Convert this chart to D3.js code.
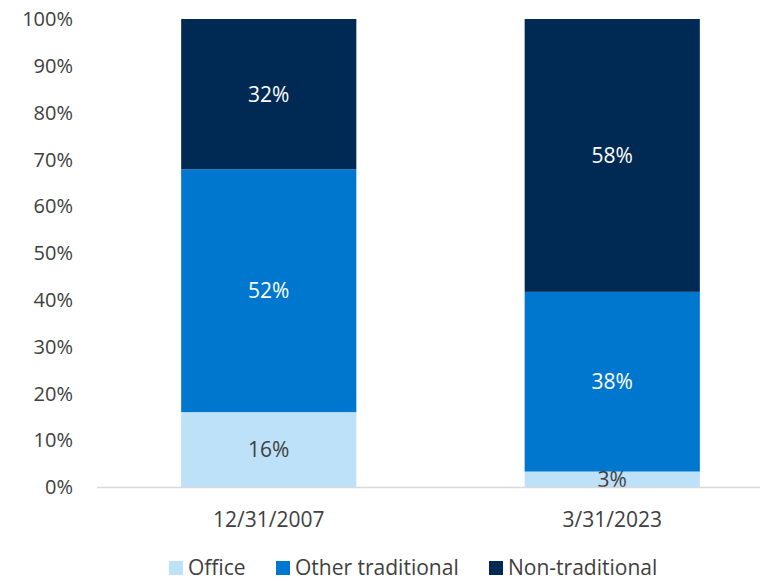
<!DOCTYPE html>
<html>
<head>
<meta charset="utf-8">
<script src="https://cdn.jsdelivr.net/npm/d3@7"></script>
<style>
  body { margin: 0; background: #fff; }
  text { font-family: "Open Sans", "Noto Sans", sans-serif; }
</style>
</head>
<body>
<script>
var categories = ["12/31/2007", "3/31/2023"];
var seriesNames = ["Office", "Other traditional", "Non-traditional"];
var office = [16.0, 3.3];
var otherTraditional = [51.9, 38.4];
var nonTraditional = [32.1, 58.3];
var yTicks = [0, 10, 20, 30, 40, 50, 60, 70, 80, 90, 100];
var colors = ["#bde1f8", "#0077cf", "#002a54"];
var labelColors = ["#404040", "#ffffff", "#ffffff"];

var width = 760, height = 581;
var svg = d3.select("body").append("svg").attr("width", width).attr("height", height);

var rows = categories.map(function (c, i) {
  return { cat: c, "Office": office[i], "Other traditional": otherTraditional[i], "Non-traditional": nonTraditional[i] };
});
var stacked = d3.stack().keys(seriesNames)(rows);

var x = d3.scaleBand().domain(categories).range([97, 784]).paddingInner(0.49).paddingOuter(0.245);
var y = d3.scaleLinear().domain([0, 100]).range([487, 19]);

// y axis labels
svg.selectAll("text.ytick").data(yTicks).enter().append("text")
  .attr("class", "ytick")
  .attr("x", 73)
  .attr("y", function (d) { return y(d); })
  .attr("dy", "0.36em")
  .attr("text-anchor", "end")
  .attr("font-size", 20)
  .attr("fill", "#404040")
  .text(function (d) { return d + "%"; });

// bars
var groups = svg.selectAll("g.series").data(stacked).enter().append("g")
  .attr("class", "series")
  .attr("fill", function (d, i) { return colors[i]; });

groups.selectAll("rect").data(function (d) { return d; }).enter().append("rect")
  .attr("x", function (d) { return x(d.data.cat); })
  .attr("y", function (d) { return y(d[1]); })
  .attr("width", x.bandwidth())
  .attr("height", function (d) { return y(d[0]) - y(d[1]); });

// data labels
stacked.forEach(function (s, si) {
  svg.selectAll("text.lab" + si).data(s).enter().append("text")
    .attr("class", "lab" + si)
    .attr("x", function (d) { return x(d.data.cat) + x.bandwidth() / 2; })
    .attr("y", function (d) { return (y(d[0]) + y(d[1])) / 2; })
    .attr("dy", "0.36em")
    .attr("text-anchor", "middle")
    .attr("font-size", 21)
    .attr("fill", labelColors[si])
    .text(function (d) { return Math.round(d[1] - d[0]) + "%"; });
});

// x axis line
svg.append("line")
  .attr("x1", 97).attr("x2", 784)
  .attr("y1", 487.5).attr("y2", 487.5)
  .attr("stroke", "#d9d9d9").attr("stroke-width", 1.5);

svg.selectAll("text.xtick").data(categories).enter().append("text")
  .attr("class", "xtick")
  .attr("x", function (d) { return x(d) + x.bandwidth() / 2; })
  .attr("y", 527)
  .attr("text-anchor", "middle")
  .attr("font-size", 21)
  .attr("fill", "#404040")
  .text(function (d) { return d; });

// legend
var legendX = [169, 276, 489];
var legend = svg.selectAll("g.legend").data(seriesNames).enter().append("g")
  .attr("class", "legend")
  .attr("transform", function (d, i) { return "translate(" + legendX[i] + ",561)"; });
legend.append("rect").attr("width", 14).attr("height", 14)
  .attr("fill", function (d, i) { return colors[i]; });
legend.append("text").attr("x", 19).attr("y", 14)
  .attr("font-size", 21)
  .attr("fill", "#404040")
  .text(function (d) { return d; });
</script>
</body>
</html>
